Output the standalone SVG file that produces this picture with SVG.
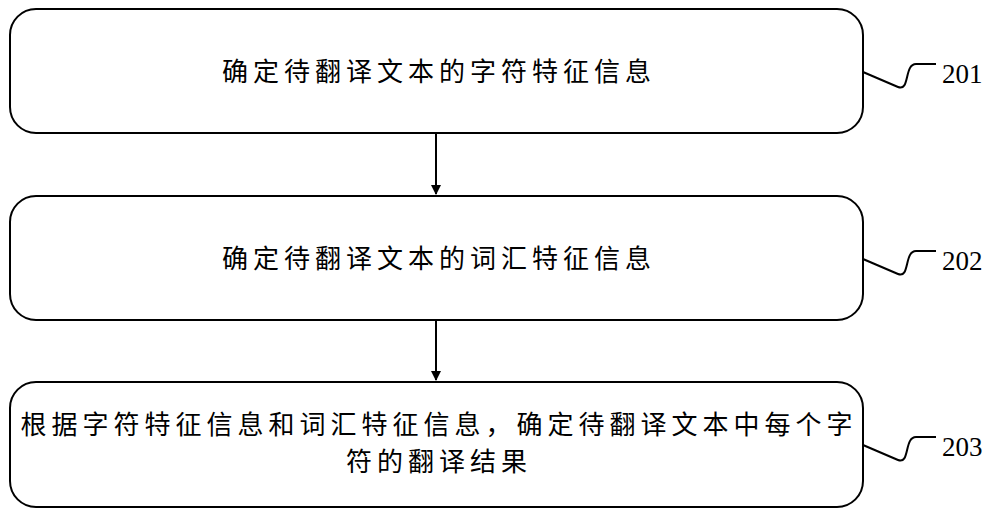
<svg xmlns="http://www.w3.org/2000/svg" width="1000" height="517" viewBox="0 0 1000 517">
<style>
.b{fill:#fff;stroke:#000;stroke-width:2}
.t{font-family:"Noto Sans CJK SC",sans-serif;font-size:26px;letter-spacing:5px;text-anchor:middle}
.n{font-family:"Liberation Serif",serif;font-size:27px}
.c{fill:none;stroke:#000;stroke-width:2}
</style>
<defs><marker id="a" markerWidth="10" markerHeight="10" refX="9" refY="5" orient="auto" markerUnits="userSpaceOnUse"><path d="M0,0L10,5L0,10z"/></marker></defs>
<g id="n1"><rect class="b" x="10" y="9" width="853" height="124" rx="26"/><text class="t" x="439" y="81">确定待翻译文本的字符特征信息</text></g>
<g id="n2"><rect class="b" x="10" y="196" width="853" height="124" rx="26"/><text class="t" x="439" y="268">确定待翻译文本的词汇特征信息</text></g>
<g id="n3"><rect class="b" x="10" y="382" width="853" height="125" rx="26"/><text class="t" x="439" y="434">根据字符特征信息和词汇特征信息，确定待翻译文本中每个字</text><text class="t" x="439" y="471">符的翻译结果</text></g>
<g id="l"><text class="n" x="942" y="83">201</text><text class="n" x="942" y="270">202</text><text class="n" x="942" y="456">203</text></g>
<g id="c">
<path class="c" d="M436,133V194" marker-end="url(#a)"/>
<path class="c" d="M436,320V380" marker-end="url(#a)"/>
<path class="c" d="M863,72L898,87C910,92 904,64 916,64H936"/>
<path class="c" d="M863,259L898,274C910,279 904,251 916,251H936"/>
<path class="c" d="M863,445L898,460C910,465 904,437 916,437H936"/>
</g>
</svg>
